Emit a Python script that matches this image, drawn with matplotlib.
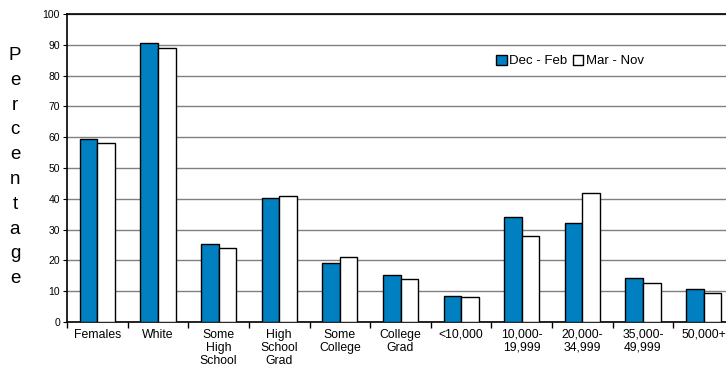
import numpy as np
import matplotlib
matplotlib.use('Agg')
import matplotlib.pyplot as plt

plt.rcParams['font.family'] = ['Liberation Sans', 'DejaVu Sans']

categories = ['Females', 'White', 'Some\nHigh\nSchool', 'High\nSchool\nGrad', 'Some\nCollege',
              'College\nGrad', '<10,000', '10,000-\n19,999', '20,000-\n34,999', '35,000-\n49,999', '50,000+']
dec_feb = [59.5, 90.5, 25.2, 40.2, 19.2, 15.3, 8.5, 34.2, 32.0, 14.3, 10.8]
mar_nov = [58.0, 89.0, 24.0, 40.9, 21.1, 14.0, 8.0, 28.0, 41.8, 12.7, 9.3]

fig = plt.figure(figsize=(7.26, 3.72), dpi=100)
ax = fig.add_axes([67/726, 1-322/372, 667/726, 308/372])

x = np.arange(len(categories))
w = 0.29
ax.bar(x - w/2, dec_feb, w, color='#0080C0', edgecolor='black', linewidth=1, label='Dec - Feb', zorder=3)
ax.bar(x + w/2, mar_nov, w, color='white', edgecolor='black', linewidth=1, label='Mar - Nov', zorder=3)

ax.set_xlim(-0.5, len(categories) - 0.5)
ax.set_ylim(0, 100)
ax.set_yticks(range(0, 101, 10))
ax.yaxis.grid(True, color='#808080', linewidth=1, zorder=0)
ax.set_axisbelow(True)

# ticks between categories, labels at centres
ax.set_xticks(np.arange(-0.5, len(categories), 1))
ax.set_xticklabels([])
ax.set_xticks(x, minor=True)
ax.set_xticklabels(categories, minor=True, fontsize=8.8, linespacing=1.1)
ax.tick_params(axis='x', which='minor', length=0, pad=5)
ax.tick_params(axis='x', which='major', length=4, width=1)
ax.tick_params(axis='y', length=3, labelsize=7.5, pad=2)

ax.spines['right'].set_visible(False)
ax.spines['top'].set_linewidth(1.2)
ax.spines['left'].set_linewidth(1.2)
ax.spines['bottom'].set_linewidth(1.2)

fig.text(15/726, 1-167/372, '\n'.join('Percentage'), fontsize=13.5, ha='center', va='center',
         linespacing=1.6)

ax.legend(loc='center', bbox_to_anchor=(570/726, 1-61/372), bbox_transform=fig.transFigure,
          ncol=2, frameon=False, fontsize=9.5, handlelength=0.8, handleheight=0.8,
          handletextpad=0.2, columnspacing=0.4)

fig.savefig('out.png', dpi=100)
